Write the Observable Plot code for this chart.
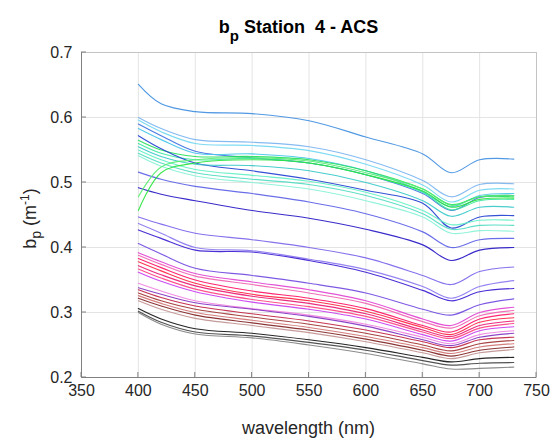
<!DOCTYPE html>
<html><head><meta charset="utf-8">
<script src="https://cdn.jsdelivr.net/npm/d3@7"></script>
<script src="https://cdn.jsdelivr.net/npm/@observablehq/plot@0.6"></script>
<style>
html,body{margin:0;padding:0;background:#fff;}
#chart{width:552px;height:443px;}
</style></head><body><div id="chart"></div>
<script>
const wavelengths = [400, 420, 450, 500, 550, 600, 650, 675, 700, 730];
const xTicks = [350, 400, 450, 500, 550, 600, 650, 700, 750];
const yTicks = [0.2, 0.3, 0.4, 0.5, 0.6, 0.7];

// upper (blue / cyan / green) spectra
const upperColors = ["#3f8ee0","#78b4f0","#6fd6f2","#3a6fe0","#45c4ea","#22e05a","#3ae8a0","#1e3fd0","#35c8c8","#5ef0c4","#4cdcc0","#86f2d6","#28e43c","#55ec70"];
const upperValues = [
  [0.651, 0.621, 0.609, 0.606, 0.595, 0.570, 0.544, 0.515, 0.535, 0.536],
  [0.600, 0.583, 0.566, 0.562, 0.555, 0.535, 0.503, 0.478, 0.497, 0.498],
  [0.596, 0.578, 0.560, 0.557, 0.549, 0.528, 0.496, 0.470, 0.488, 0.490],
  [0.590, 0.572, 0.548, 0.538, 0.530, 0.512, 0.483, 0.457, 0.477, 0.480],
  [0.583, 0.566, 0.545, 0.544, 0.537, 0.518, 0.486, 0.463, 0.480, 0.483],
  [0.565, 0.550, 0.540, 0.540, 0.535, 0.518, 0.490, 0.466, 0.478, 0.478],
  [0.560, 0.545, 0.535, 0.537, 0.530, 0.512, 0.485, 0.458, 0.472, 0.474],
  [0.572, 0.552, 0.530, 0.518, 0.505, 0.488, 0.468, 0.430, 0.447, 0.449],
  [0.555, 0.540, 0.528, 0.526, 0.518, 0.500, 0.472, 0.448, 0.462, 0.462],
  [0.550, 0.535, 0.520, 0.511, 0.502, 0.485, 0.457, 0.435, 0.442, 0.442],
  [0.545, 0.530, 0.515, 0.505, 0.497, 0.480, 0.452, 0.428, 0.434, 0.434],
  [0.541, 0.525, 0.510, 0.500, 0.490, 0.472, 0.447, 0.422, 0.426, 0.425],
  [0.457, 0.515, 0.530, 0.535, 0.530, 0.512, 0.487, 0.462, 0.474, 0.476],
  [0.478, 0.524, 0.535, 0.538, 0.533, 0.515, 0.490, 0.465, 0.478, 0.480]
];

// middle (purple / indigo) spectra
const middleColors = ["#5a5ee6","#2414c4","#7a62ea","#8a74f0","#3818d0","#7048e0"];
const middleValues = [
  [0.516, 0.505, 0.494, 0.483, 0.470, 0.452, 0.424, 0.400, 0.412, 0.414],
  [0.492, 0.482, 0.472, 0.457, 0.445, 0.428, 0.404, 0.380, 0.396, 0.400],
  [0.447, 0.436, 0.422, 0.412, 0.400, 0.384, 0.357, 0.343, 0.363, 0.370],
  [0.437, 0.422, 0.400, 0.395, 0.382, 0.366, 0.340, 0.322, 0.340, 0.349],
  [0.427, 0.414, 0.396, 0.393, 0.380, 0.362, 0.334, 0.318, 0.332, 0.337],
  [0.406, 0.390, 0.368, 0.357, 0.345, 0.330, 0.305, 0.296, 0.312, 0.321]
];

// lower (magenta / red / brown / black) spectra
const lowerColors = ["#e040d0","#f060b0","#ff1060","#ff2040","#e81870","#ff4080","#c838f0","#f080e0","#8030c0","#c02040","#a03030","#d07070","#802020","#c09090","#101010","#404040","#808080"];
const lowerValues = [
  [0.392, 0.378, 0.360, 0.347, 0.335, 0.318, 0.290, 0.280, 0.300, 0.308],
  [0.388, 0.374, 0.356, 0.343, 0.330, 0.314, 0.286, 0.276, 0.295, 0.303],
  [0.383, 0.369, 0.350, 0.333, 0.322, 0.306, 0.280, 0.270, 0.290, 0.298],
  [0.378, 0.364, 0.345, 0.328, 0.318, 0.302, 0.277, 0.266, 0.285, 0.292],
  [0.372, 0.358, 0.341, 0.325, 0.314, 0.298, 0.273, 0.263, 0.280, 0.287],
  [0.367, 0.353, 0.336, 0.320, 0.309, 0.294, 0.270, 0.260, 0.276, 0.283],
  [0.362, 0.348, 0.332, 0.316, 0.305, 0.290, 0.266, 0.256, 0.272, 0.278],
  [0.345, 0.333, 0.318, 0.306, 0.296, 0.282, 0.262, 0.252, 0.266, 0.272],
  [0.338, 0.328, 0.315, 0.305, 0.294, 0.279, 0.258, 0.249, 0.262, 0.268],
  [0.335, 0.323, 0.310, 0.298, 0.287, 0.273, 0.255, 0.246, 0.258, 0.262],
  [0.330, 0.318, 0.305, 0.293, 0.282, 0.268, 0.250, 0.241, 0.252, 0.257],
  [0.326, 0.314, 0.300, 0.288, 0.277, 0.263, 0.246, 0.237, 0.247, 0.252],
  [0.322, 0.310, 0.296, 0.284, 0.273, 0.259, 0.242, 0.233, 0.242, 0.247],
  [0.318, 0.305, 0.291, 0.280, 0.269, 0.255, 0.238, 0.229, 0.238, 0.243],
  [0.306, 0.290, 0.275, 0.268, 0.258, 0.246, 0.231, 0.224, 0.229, 0.231],
  [0.302, 0.285, 0.270, 0.264, 0.254, 0.242, 0.226, 0.219, 0.222, 0.223],
  [0.300, 0.282, 0.267, 0.261, 0.250, 0.237, 0.221, 0.213, 0.214, 0.216]
];

const seriesColors = [...lowerColors, ...middleColors, ...upperColors];
const seriesValues = [...lowerValues, ...middleValues, ...upperValues];

const rows = [];
seriesValues.forEach((vals, i) => vals.forEach((v, j) =>
  rows.push({id: i, w: wavelengths[j], v, color: seriesColors[i]})));

const chart = Plot.plot({
  width: 552, height: 443,
  marginLeft: 81, marginRight: 16, marginTop: 52, marginBottom: 66,
  style: {fontFamily: "'Liberation Sans', Arial, sans-serif", fontSize: "16px", color: "#262626", background: "#fff", overflow: "visible"},
  x: {domain: [350, 750]},
  y: {domain: [0.2, 0.7]},
  color: {type: "identity"},
  marks: [
    Plot.gridX(xTicks, {stroke: "#e4e4e4", strokeOpacity: 1}),
    Plot.gridY(yTicks, {stroke: "#e4e4e4", strokeOpacity: 1}),
    Plot.line(rows, {x: "w", y: "v", z: "id", stroke: "color", strokeWidth: 1.15, strokeOpacity: 0.9, curve: "catmull-rom"}),
    Plot.frame({stroke: "#c4c4c4"}),
    Plot.ruleX([350], {stroke: "#808080"}),
    Plot.ruleY([0.2], {stroke: "#808080"}),
    Plot.axisX(xTicks, {tickSize: 0, tickPadding: 7, label: null, tickFormat: d => String(d)}),
    Plot.axisY(yTicks, {tickSize: 0, tickPadding: 9, label: null, tickFormat: d3.format(".1f")})
  ]
});
document.getElementById("chart").appendChild(chart);

const sx = chart.scale("x"), sy = chart.scale("y");
const svg = d3.select(chart);
const tg = svg.append("g").attr("stroke", "#808080").attr("stroke-width", 1);
xTicks.forEach(t => tg.append("line")
  .attr("x1", sx.apply(t)).attr("x2", sx.apply(t))
  .attr("y1", sy.apply(0.2)).attr("y2", sy.apply(0.2) - 5));
yTicks.forEach(t => tg.append("line")
  .attr("x1", sx.apply(350)).attr("x2", sx.apply(350) + 5)
  .attr("y1", sy.apply(t)).attr("y2", sy.apply(t)));

const cx = (sx.apply(350) + sx.apply(750)) / 2;
const cy = (sy.apply(0.2) + sy.apply(0.7)) / 2;

// title
const title = svg.append("text").attr("x", cx - 10).attr("y", 33)
  .attr("text-anchor", "middle").attr("font-weight", "bold").attr("font-size", 18)
  .attr("fill", "#000").style("white-space", "pre");
title.append("tspan").text("b");
title.append("tspan").attr("dy", 8).attr("font-size", 15).text("p");
title.append("tspan").attr("dy", -8).text(" Station  4 - ACS");

// x label
svg.append("text").attr("x", cx).attr("y", 434).attr("text-anchor", "middle")
  .attr("font-size", 18).attr("fill", "#262626").text("wavelength (nm)");

// y label
const yl = svg.append("text").attr("transform", `translate(36,${cy + 4}) rotate(-90)`)
  .attr("text-anchor", "middle").attr("font-size", 18).attr("fill", "#262626");
yl.append("tspan").text("b");
yl.append("tspan").attr("dy", 5).attr("font-size", 14).text("p");
yl.append("tspan").attr("dy", -5).text(" (m");
yl.append("tspan").attr("dy", -7).attr("font-size", 12).text("-1");
yl.append("tspan").attr("dy", 7).text(")");
</script></body></html>
